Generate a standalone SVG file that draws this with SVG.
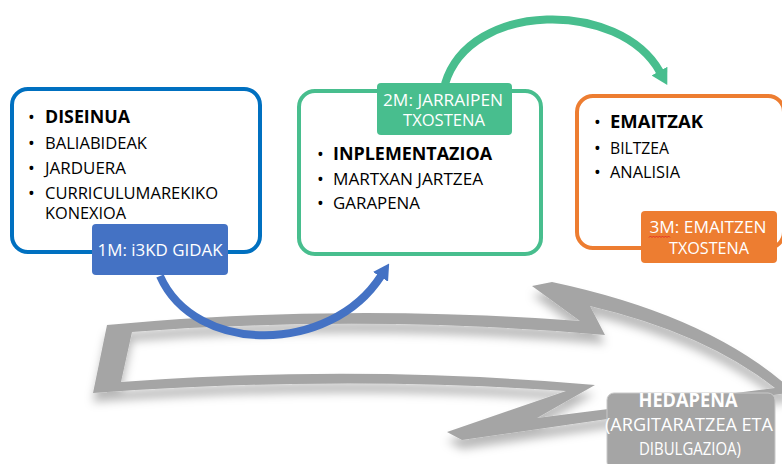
<svg xmlns="http://www.w3.org/2000/svg" width="782" height="464" viewBox="0 0 782 464">
<defs>
<style>
.t{font-family:"Open Sans","Liberation Sans",sans-serif;font-size:16px;fill:#000000}
.bul{font-size:18px;font-weight:normal}
.b{font-weight:bold;font-size:17px}
.w{fill:#ffffff;font-size:16px}
.box{fill:#ffffff;stroke-width:4}
</style>
<filter id="shadow" x="-10%" y="-20%" width="120%" height="160%">
<feDropShadow dx="0" dy="9" stdDeviation="5" flood-color="#000000" flood-opacity="0.28"/>
</filter>
<marker id="headBlue" markerUnits="userSpaceOnUse" markerWidth="16" markerHeight="18" viewBox="0 0 16 18" refX="1" refY="9" orient="auto">
<path d="M0,0 L16,9 L0,18 z" fill="#4472C4"/>
</marker>
<marker id="headGreen" markerUnits="userSpaceOnUse" markerWidth="16" markerHeight="18" viewBox="0 0 16 18" refX="1" refY="9" orient="auto">
<path d="M0,0 L16,9 L0,18 z" fill="#48BE8E"/>
</marker>
</defs>
<rect width="782" height="464" fill="#ffffff"/>

<g id="gray-arrow" filter="url(#shadow)">
<path fill="#A5A5A5" fill-rule="evenodd" d="M107,325 Q340,303 580,321 L532,286 L552,282 Q712,316 794,392 L462,440 L447,432 L566,391 Q340,375 93,393 Z M132,332 Q370,314 605,335 L590,306 Q705,333 775,388 L537,418 L595,385 Q360,364 121,382 Z"/>
</g>

<g id="node-diseinua">
<rect class="box" x="12" y="89" width="248" height="163" rx="16" stroke="#0070C0"/>
<text class="t" y="123"><tspan class="bul" x="28" dy="1">•</tspan><tspan class="b" x="45" dy="-1" textLength="85" lengthAdjust="spacingAndGlyphs">DISEINUA</tspan></text>
<text class="t" y="149"><tspan class="bul" x="28" dy="1">•</tspan><tspan x="45" dy="-1" textLength="102" lengthAdjust="spacingAndGlyphs">BALIABIDEAK</tspan></text>
<text class="t" y="174"><tspan class="bul" x="28" dy="1">•</tspan><tspan x="45" dy="-1" textLength="81" lengthAdjust="spacingAndGlyphs">JARDUERA</tspan></text>
<text class="t" y="199"><tspan class="bul" x="28" dy="1">•</tspan><tspan x="45" dy="-1" textLength="173" lengthAdjust="spacingAndGlyphs">CURRICULUMAREKIKO</tspan></text>
<text class="t" x="45" y="219" textLength="81" lengthAdjust="spacingAndGlyphs">KONEXIOA</text>
<rect x="92" y="224" width="136" height="51" rx="4" fill="#4472C4"/>
<text class="t w" x="160" y="256" text-anchor="middle" style="font-size:17px" textLength="125" lengthAdjust="spacingAndGlyphs">1M: i3KD GIDAK</text>
</g>

<g id="node-inplementazioa">
<rect class="box" x="299" y="91" width="242" height="163" rx="16" stroke="#48BE8E"/>
<rect x="377" y="83" width="135" height="52" rx="4" fill="#48BE8E"/>
<text class="t w" x="443" y="106" text-anchor="middle" textLength="120" lengthAdjust="spacingAndGlyphs">2M: JARRAIPEN</text>
<text class="t w" x="444" y="126" text-anchor="middle" textLength="82" lengthAdjust="spacingAndGlyphs">TXOSTENA</text>
<text class="t" y="160"><tspan class="bul" x="317" dy="1">•</tspan><tspan class="b" x="333" dy="-1" textLength="159" lengthAdjust="spacingAndGlyphs">INPLEMENTAZIOA</tspan></text>
<text class="t" y="185"><tspan class="bul" x="317" dy="1">•</tspan><tspan x="333" dy="-1" textLength="150" lengthAdjust="spacingAndGlyphs">MARTXAN JARTZEA</tspan></text>
<text class="t" y="209"><tspan class="bul" x="317" dy="1">•</tspan><tspan x="333" dy="-1" textLength="87" lengthAdjust="spacingAndGlyphs">GARAPENA</tspan></text>
</g>

<g id="node-emaitzak">
<rect class="box" x="577" y="96" width="207" height="152" rx="16" stroke="#ED7D31"/>
<text class="t" y="128"><tspan class="bul" x="594" dy="1">•</tspan><tspan class="b" x="610" dy="-1" textLength="93" lengthAdjust="spacingAndGlyphs">EMAITZAK</tspan></text>
<text class="t" y="154"><tspan class="bul" x="594" dy="1">•</tspan><tspan x="610" dy="-1" textLength="59" lengthAdjust="spacingAndGlyphs">BILTZEA</tspan></text>
<text class="t" y="178"><tspan class="bul" x="594" dy="1">•</tspan><tspan x="610" dy="-1" textLength="70" lengthAdjust="spacingAndGlyphs">ANALISIA</tspan></text>
<rect x="641" y="211" width="136" height="52" rx="4" fill="#ED7D31"/>
<text class="t w" x="708" y="233" text-anchor="middle" textLength="117" lengthAdjust="spacingAndGlyphs">3M: EMAITZEN</text>
<text class="t w" x="709" y="254" text-anchor="middle" textLength="80" lengthAdjust="spacingAndGlyphs">TXOSTENA</text>
<path d="M649,237.5 l1.5,-1.5 l1.5,1.5 l1.5,-1.5 l1.5,1.5 l1.5,-1.5 l1.5,1.5 l1.5,-1.5 l1.5,1.5 l1.5,-1.5 l1.5,1.5 l1.5,-1.5 l1.5,1.5 l1.5,-1.5 l1.5,1.5" fill="none" stroke="#E02020" stroke-width="0.8"/>
</g>

<g id="node-hedapena">
<rect x="607" y="393" width="168" height="76" rx="7" fill="#A5A5A5" stroke="#C8C8C8" stroke-width="1"/>
<text class="t w" x="688" y="407" text-anchor="middle" font-weight="bold" style="font-size:19px" textLength="99" lengthAdjust="spacingAndGlyphs">HEDAPENA</text>
<text class="t w" x="689" y="431" text-anchor="middle" style="font-size:18px" textLength="168" lengthAdjust="spacingAndGlyphs">(ARGITARATZEA ETA</text>
<text class="t w" x="690" y="455" text-anchor="middle" style="font-size:18px" textLength="102" lengthAdjust="spacingAndGlyphs">DIBULGAZIOA)</text>
</g>

<g id="connectors" fill="none" stroke-width="8">
<path d="M160,276 C195,355 330,355 381,276" stroke="#4472C4" marker-end="url(#headBlue)"/>
<path d="M445,84 C470,0 620,0 660,72" stroke="#48BE8E" marker-end="url(#headGreen)"/>
</g>
</svg>
